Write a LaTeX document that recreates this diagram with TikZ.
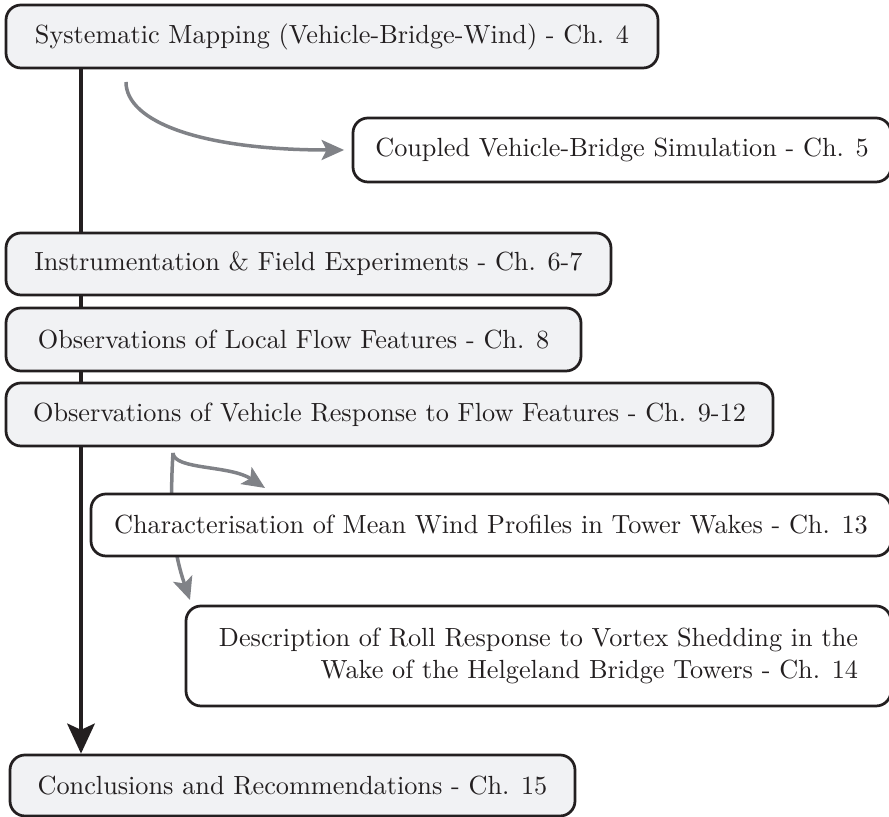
\documentclass[tikz,border=0pt]{standalone}
\usetikzlibrary{arrows.meta,backgrounds}
\definecolor{boxfill}{RGB}{241,242,244}
\definecolor{inkdark}{RGB}{35,31,32}
\definecolor{linkgray}{RGB}{128,130,135}
\begin{document}
\begin{tikzpicture}[x=0.4pt,y=-0.4pt,
  every node/.style={font=\fontsize{10.5}{13}\selectfont, text=inkdark},
  chbox/.style={draw=inkdark, line width=1.1pt, rounded corners=6pt, inner sep=0pt, align=center},
  mainbox/.style={chbox, fill=boxfill},
  sidebox/.style={chbox, fill=white},
  spineline/.style={draw=inkdark, line width=1.6pt, -{Stealth[length=12pt,width=11pt,inset=2.5pt]}},
  branch/.style={draw=linkgray, line width=1.4pt, -{Stealth[length=9pt,width=8pt,inset=2pt]}}]
\useasboundingbox (0,0) rectangle (889,817);

% main chapters
\node[mainbox, minimum width=260.8pt, minimum height=25.2pt] (map) at (332,36.5)
  {Systematic Mapping (Vehicle-Bridge-Wind) - Ch. 4};
\node[mainbox, minimum width=242pt, minimum height=24.8pt] (instr) at (308.5,264)
  {Instrumentation \& Field Experiments - Ch. 6-7};
\node[mainbox, minimum width=230pt, minimum height=25.2pt] (flow) at (293.5,339.5)
  {Observations of Local Flow Features - Ch. 8};
\node[mainbox, minimum width=306.8pt, minimum height=25.2pt] (resp) at (389.5,414.5)
  {Observations of Vehicle Response to Flow Features - Ch. 9-12};
\node[mainbox, minimum width=226pt, minimum height=24.4pt] (concl) at (292.5,785.5)
  {Conclusions and Recommendations - Ch. 15};

% side studies
\node[sidebox, minimum width=215.2pt, minimum height=25.6pt] (sim) at (622,150)
  {Coupled Vehicle-Bridge Simulation - Ch. 5};
\node[sidebox, minimum width=320pt, minimum height=24.8pt] (wakes) at (491,525)
  {Characterisation of Mean Wind Profiles in Tower Wakes - Ch. 13};
\node[sidebox, minimum width=282pt, minimum height=40pt, align=right] (roll) at (538.5,656)
  {Description of Roll Response to Vortex Shedding in the\\
   Wake of the Helgeland Bridge Towers - Ch. 14};

% connector end points
\coordinate (spine) at (81,0);
\coordinate (simfrom) at (126,82);
\coordinate (wakefrom) at (173,453);
\coordinate (waketo) at (265,488);
\coordinate (rollto) at (190,600);

\begin{pgfonlayer}{background}
  \draw[spineline] (map.south -| spine) -- (concl.north -| spine);
  \draw[branch] (wakefrom) .. controls (168,530) and (178,565) .. (rollto);
\end{pgfonlayer}

\draw[branch, shorten >=3pt] (simfrom) .. controls +(0,40) and +(-150,0) .. (sim.west);
\draw[branch] (wakefrom) .. controls (174,470) and (230,465) .. (waketo);
\end{tikzpicture}
\end{document}
